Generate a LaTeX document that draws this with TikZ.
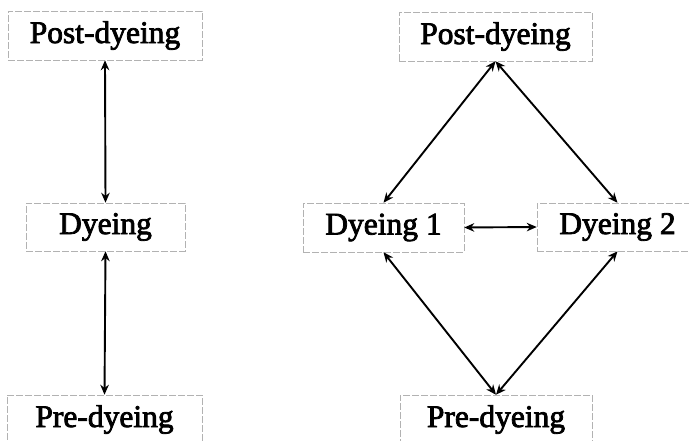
\documentclass[tikz,border=0pt]{standalone}
\usepackage{fontspec}
\setmainfont{Liberation Serif}
\newfontfamily\scanfont[FakeBold=2.5]{Liberation Serif}
\usetikzlibrary{arrows.meta}
\begin{document}
\begin{tikzpicture}[x=1pt,y=-1pt,
  box/.style={draw=gray!60, line width=0.5pt, dash pattern=on 7pt off 2pt, rectangle, inner sep=0pt,
    font=\scanfont\fontsize{31.5}{36}\selectfont, text=black},
  link/.style={{Stealth[length=10pt,width=8.5pt]}-{Stealth[length=10pt,width=8.5pt]}, line width=1.9pt, black}]
\useasboundingbox (0,0) rectangle (689,441);
\clip (0,0) rectangle (689,441);
% left column
\node[box, minimum width=194pt, minimum height=49pt] (lpost) at (105,35.5) {Post-dyeing};
\node[box, minimum width=159pt, minimum height=48pt] (ldye) at (105.5,227) {Dyeing};
\node[box, minimum width=195pt, minimum height=49pt] (lpre) at (104.5,419.5) {Pre-dyeing};
% right diagram
\node[box, minimum width=193pt, minimum height=49pt] (rpost) at (495.5,36.5) {Post-dyeing};
\node[box, minimum width=161pt, minimum height=49pt] (d1) at (383.5,227.5) {Dyeing 1};
\node[box, minimum width=161pt, minimum height=48pt] (d2) at (617.5,227) {Dyeing 2};
\node[box, minimum width=192pt, minimum height=49pt] (rpre) at (496,419.5) {Pre-dyeing};
% connectors
\draw[link] (lpost.south) -- (ldye.north);
\draw[link] (ldye.south) -- (lpre.north);
\draw[link] (rpost.south) -- (d1.north);
\draw[link] (rpost.south) -- (d2.north);
\draw[link] (d1.south) -- (rpre.north);
\draw[link] (d2.south) -- (rpre.north);
\draw[link] (d1.east) -- (d2.west);
\end{tikzpicture}
\end{document}
